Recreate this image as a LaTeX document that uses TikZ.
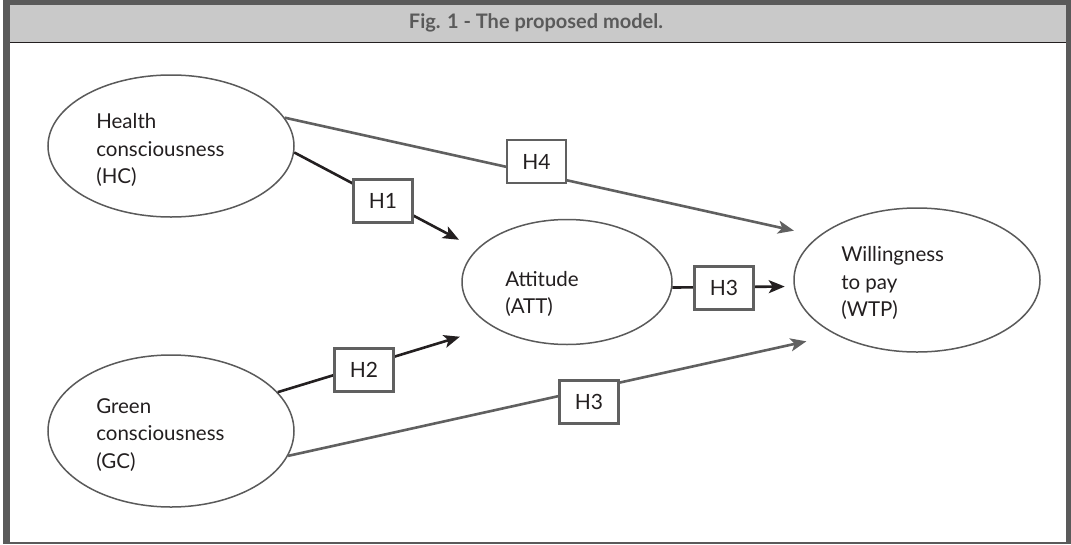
\documentclass[tikz,border=0pt]{standalone}
\usepackage{fontspec}
\setmainfont{Lato}
\usetikzlibrary{shapes.geometric,arrows.meta}
\definecolor{framegray}{HTML}{5A5A5A}
\definecolor{bandgray}{HTML}{C9C9C9}
\definecolor{linegray}{HTML}{606060}
\definecolor{inkblack}{HTML}{231F20}

\begin{document}
\begin{tikzpicture}[x=1pt,y=-1pt,>={Stealth[length=16pt,width=13pt,inset=4pt]},line width=2.6pt,
		var node/.style={ellipse,draw=framegray,line width=1.5pt,inner sep=0pt},
		var text/.style={anchor=west,align=left,inner sep=0pt,text=inkblack,font=\fontsize{20.5}{27.8}\selectfont},
		hyp node/.style={rectangle,draw=linegray,line width=2.2pt,fill=white,minimum width=59pt,minimum height=43pt,text=inkblack,font=\fontsize{21}{24}\selectfont},
		black edge/.style={->,draw=inkblack},
		gray edge/.style={->,draw=linegray}]
		\useasboundingbox (0,0) rectangle (1071,544);
		% frame and title
		\fill[framegray] (3,0) rectangle (1071,544);
		\fill[white] (10,43) rectangle (1066,541.5);
		\fill[bandgray] (10,5) rectangle (1066,41.5);
		\fill[inkblack] (10,41.5) rectangle (1066,43.2);
		\node[text=framegray,font=\bfseries\fontsize{20}{24}\selectfont] (title) at (536,23) {Fig. 1 - The proposed model.};
		% constructs
		\node[var node,minimum width=246pt,minimum height=142pt] (hc) at (171,146) {};
		\node[var node,minimum width=246pt,minimum height=152pt] (gc) at (171,431) {};
		\node[var node,minimum width=210pt,minimum height=125pt] (att) at (567,282) {};
		\node[var node,minimum width=246pt,minimum height=144pt] (wtp) at (917,280) {};
		\node[var text] (hc-txt) at (95,150) {Health\\consciousness\\(HC)};
		\node[var text] (gc-txt) at (95,435) {Green\\consciousness\\(GC)};
		\node[var text] (att-txt) at (504,294) {Attitude\\(ATT)};
		\node[var text] (wtp-txt) at (840,283) {Willingness\\to pay\\(WTP)};
		% hypotheses
		\path
		(hc.14) edge [gray edge,shorten >=25pt] (wtp.156.5)
		(hc.-3) edge [black edge,shorten >=20pt] (att.160.5)
		(gc.20) edge [black edge,shorten >=34pt] (att.211.7)
		(att.-3.3) edge [black edge,shorten >=9pt] (wtp.183.7)
		(gc.-12.4) edge [gray edge,shorten >=30pt] (wtp.214.7);
		\node[hyp node] (h4) at (536.5,161.5) {H4};
		\node[hyp node] (h1) at (383,201) {H1};
		\node[hyp node] (h2) at (364,370) {H2};
		\node[hyp node] (h3a) at (724,288) {H3};
		\node[hyp node] (h3b) at (589,402) {H3};
\end{tikzpicture}
\end{document}
